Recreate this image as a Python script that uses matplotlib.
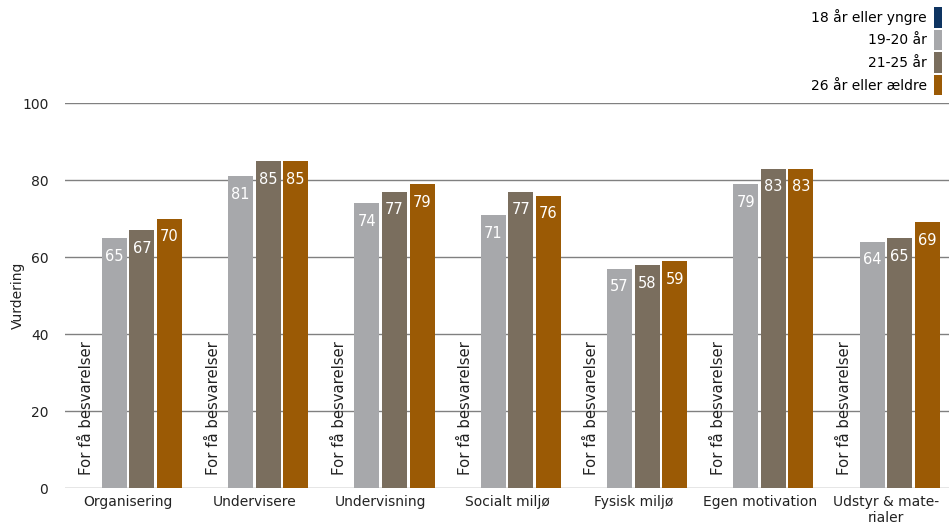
import matplotlib.pyplot as plt
import numpy as np
from matplotlib.patches import Patch

plt.rcParams['font.family'] = ['DejaVu Sans']

kategorier = ["Organisering", "Undervisere", "Undervisning", "Socialt miljø",
              "Fysisk miljø", "Egen motivation", "Udstyr & mate-\nrialer"]
grupper = ["18 år eller yngre", "19-20 år", "21-25 år", "26 år eller ældre"]
v18 = [None, None, None, None, None, None, None]
v19_20 = [65, 81, 74, 71, 57, 79, 64]
v21_25 = [67, 85, 77, 77, 58, 83, 65]
v26 = [70, 85, 79, 76, 59, 83, 69]
farver = ["#0e3461", "#a7a8ab", "#7a6e5e", "#9b5a05"]
yticks = [0, 20, 40, 60, 80, 100]

serier = [v18, v19_20, v21_25, v26]

fig = plt.figure(figsize=(9.49, 5.29), dpi=100)
ax = fig.add_axes([0.0685, 0.0775, 0.9315, 0.7275])

x = np.arange(len(kategorier))
slot = 0.218
bredde = 0.198
fs = 10

for i, (serie, farve) in enumerate(zip(serier, farver)):
    pos = x + (i - 1.5) * slot
    for xp, v in zip(pos, serie):
        if v is None:
            ax.text(xp, 3.5, "For få besvarelser", rotation=90, ha="center",
                    va="bottom", fontsize=10.7, color="#222222")
            continue
        ax.bar(xp, v, width=bredde, color=farve, zorder=3)
        ax.text(xp, v - 2.8, f"{v:.0f}", ha="center", va="top",
                fontsize=10.5, color="white", zorder=4)

ax.set_xlim(-0.5, len(kategorier) - 0.5)
ax.set_ylim(0, 100)
ax.set_yticks(yticks)
ax.set_xticks(x)
ax.set_xticklabels(kategorier, fontsize=fs)
ax.tick_params(axis="both", length=0, labelsize=fs, colors="#222222")
ax.tick_params(axis="y", pad=12)
ax.tick_params(axis="x", pad=5)
ax.grid(axis="y", color="#808080", linewidth=1, zorder=0)
for s in ax.spines.values():
    s.set_visible(False)
ax.set_ylabel("Vurdering", fontsize=fs, color="#222222")
ax.yaxis.set_label_coords(-0.045, 0.5)

handles = [Patch(facecolor=f, label=g) for f, g in zip(farver, grupper)]
fig.legend(handles=handles, loc="upper right", bbox_to_anchor=(1.0, 1.0),
           markerfirst=False, frameon=False, fontsize=fs,
           handlelength=0.6, handleheight=1.9, handletextpad=0.5,
           labelspacing=0.15, borderaxespad=0.2, borderpad=0.3)

fig.savefig("out.png", dpi=100)
